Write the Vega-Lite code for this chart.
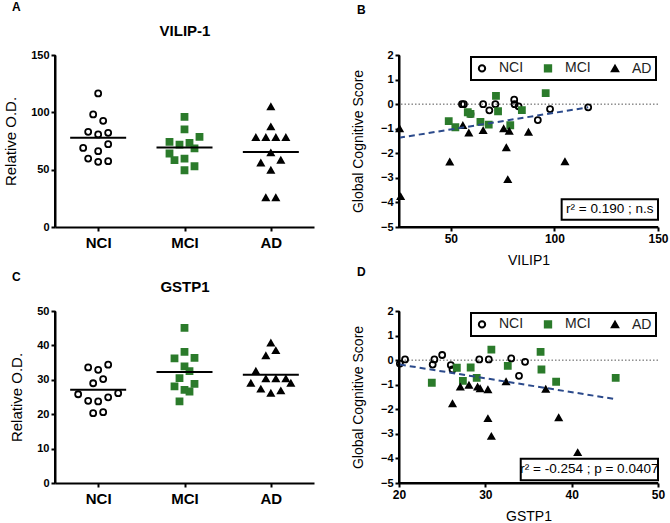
{
  "$schema": "https://vega.github.io/schema/vega-lite/v6.json",
  "background": "white",
  "padding": {"left": 3, "top": 1, "right": 2, "bottom": 2},
  "config": {
    "font": "Liberation Sans",
    "view": {"stroke": null},
    "axis": {"grid": false, "tickSize": 4, "domainColor": "black", "domainWidth": 2, "tickColor": "black", "tickWidth": 2, "labelOverlap": false, "labelFlush": false, "labelFont": "Liberation Sans", "labelFontWeight": "bold", "labelColor": "black", "labelFontSize": 11, "labelPadding": 2, "titleFont": "Liberation Sans", "titleFontWeight": "normal", "titleFontSize": 14, "titleColor": "black"},
    "axisQuantitative": {"labelOverlap": false, "labelFlush": false},
    "legend": {"labelFont": "Liberation Sans", "labelFontSize": 14, "labelColor": "#222", "strokeColor": "black", "strokeWidth": 2, "fillColor": "white", "padding": 4, "offset": 2, "columnPadding": 16, "labelOffset": 10, "symbolStrokeWidth": 2, "symbolSize": 40, "orient": "top-right", "direction": "horizontal"},
    "title": {"font": "Liberation Sans", "fontSize": 12, "fontWeight": "bold", "color": "black", "anchor": "start", "frame": "group"}
  },
  "datasets": {
    "vilip_strip": [
      {"group": "NCI", "slot": 0, "value": 116.5}, {"group": "NCI", "slot": -1, "value": 98.2}, {"group": "NCI", "slot": 1, "value": 92.6},
      {"group": "NCI", "slot": -2, "value": 83.0}, {"group": "NCI", "slot": 0, "value": 80.7}, {"group": "NCI", "slot": 2, "value": 82.1},
      {"group": "NCI", "slot": -3, "value": 69.0}, {"group": "NCI", "slot": 0, "value": 66.1}, {"group": "NCI", "slot": 2, "value": 72.2},
      {"group": "NCI", "slot": -2, "value": 59.7}, {"group": "NCI", "slot": 0, "value": 56.8}, {"group": "NCI", "slot": 2, "value": 57.4},
      {"group": "MCI", "slot": 0, "value": 96.1}, {"group": "MCI", "slot": 0, "value": 85.1}, {"group": "MCI", "slot": 3, "value": 78.6},
      {"group": "MCI", "slot": -3, "value": 74.3}, {"group": "MCI", "slot": -1, "value": 71.9}, {"group": "MCI", "slot": 1, "value": 73.4},
      {"group": "MCI", "slot": 2, "value": 68.5}, {"group": "MCI", "slot": -3, "value": 64.1}, {"group": "MCI", "slot": -2, "value": 58.3},
      {"group": "MCI", "slot": 0, "value": 59.7}, {"group": "MCI", "slot": 2, "value": 53.0}, {"group": "MCI", "slot": 0, "value": 49.5},
      {"group": "AD", "slot": 0, "value": 104.9}, {"group": "AD", "slot": 0, "value": 87.4}, {"group": "AD", "slot": -3, "value": 78.1},
      {"group": "AD", "slot": -1, "value": 78.1}, {"group": "AD", "slot": 1, "value": 78.1}, {"group": "AD", "slot": 3, "value": 78.1},
      {"group": "AD", "slot": 0, "value": 64.7}, {"group": "AD", "slot": -2, "value": 55.9}, {"group": "AD", "slot": 2, "value": 58.3},
      {"group": "AD", "slot": 0, "value": 49.5}, {"group": "AD", "slot": -1, "value": 25.6}, {"group": "AD", "slot": 1, "value": 25.6}
    ],
    "gstp_strip": [
      {"group": "NCI", "slot": -2, "value": 33.6}, {"group": "NCI", "slot": 0, "value": 32.9}, {"group": "NCI", "slot": 2, "value": 34.4},
      {"group": "NCI", "slot": -1, "value": 29.0}, {"group": "NCI", "slot": 1, "value": 30.2}, {"group": "NCI", "slot": -4, "value": 25.8},
      {"group": "NCI", "slot": -2, "value": 23.9}, {"group": "NCI", "slot": 0, "value": 23.7}, {"group": "NCI", "slot": 2, "value": 24.9},
      {"group": "NCI", "slot": 4, "value": 26.1}, {"group": "NCI", "slot": -1, "value": 20.3}, {"group": "NCI", "slot": 1, "value": 20.6},
      {"group": "MCI", "slot": 0, "value": 45.1}, {"group": "MCI", "slot": 0, "value": 38.1}, {"group": "MCI", "slot": -2, "value": 36.2},
      {"group": "MCI", "slot": 2, "value": 36.4}, {"group": "MCI", "slot": 0, "value": 33.9}, {"group": "MCI", "slot": 1, "value": 32.5},
      {"group": "MCI", "slot": -1, "value": 30.5}, {"group": "MCI", "slot": -2, "value": 28.1}, {"group": "MCI", "slot": 2, "value": 28.8},
      {"group": "MCI", "slot": 0, "value": 27.1}, {"group": "MCI", "slot": 1, "value": 26.6}, {"group": "MCI", "slot": -1, "value": 23.7},
      {"group": "AD", "slot": 0, "value": 40.7}, {"group": "AD", "slot": 1, "value": 38.5}, {"group": "AD", "slot": -1, "value": 37.0},
      {"group": "AD", "slot": -3, "value": 32.5}, {"group": "AD", "slot": -4, "value": 29.0}, {"group": "AD", "slot": -1, "value": 30.3},
      {"group": "AD", "slot": 1, "value": 30.3}, {"group": "AD", "slot": 3, "value": 30.3}, {"group": "AD", "slot": 4, "value": 29.0},
      {"group": "AD", "slot": -2, "value": 27.3}, {"group": "AD", "slot": 0, "value": 26.1}, {"group": "AD", "slot": 2, "value": 26.8}
    ],
    "vilip_scatter": [
      {"group": "NCI", "vilip": 55.4, "gcs": 0.0}, {"group": "NCI", "vilip": 56.3, "gcs": 0.0}, {"group": "NCI", "vilip": 59.5, "gcs": -0.4},
      {"group": "NCI", "vilip": 65.6, "gcs": 0.0}, {"group": "NCI", "vilip": 68.6, "gcs": -0.25}, {"group": "NCI", "vilip": 71.5, "gcs": 0.0},
      {"group": "NCI", "vilip": 80.6, "gcs": 0.18}, {"group": "NCI", "vilip": 80.8, "gcs": 0.0}, {"group": "NCI", "vilip": 82.7, "gcs": -0.09},
      {"group": "NCI", "vilip": 92.0, "gcs": -0.65}, {"group": "NCI", "vilip": 97.9, "gcs": -0.2}, {"group": "NCI", "vilip": 116.3, "gcs": -0.13},
      {"group": "MCI", "vilip": 49.0, "gcs": -0.69}, {"group": "MCI", "vilip": 52.2, "gcs": -0.94}, {"group": "MCI", "vilip": 58.2, "gcs": -0.33},
      {"group": "MCI", "vilip": 59.5, "gcs": -0.4}, {"group": "MCI", "vilip": 64.3, "gcs": -0.72}, {"group": "MCI", "vilip": 68.3, "gcs": -0.83},
      {"group": "MCI", "vilip": 71.8, "gcs": 0.34}, {"group": "MCI", "vilip": 72.8, "gcs": -0.29}, {"group": "MCI", "vilip": 78.7, "gcs": -0.86},
      {"group": "MCI", "vilip": 84.3, "gcs": -0.24}, {"group": "MCI", "vilip": 95.8, "gcs": 0.45},
      {"group": "AD", "vilip": 25.3, "gcs": -1.0}, {"group": "AD", "vilip": 25.8, "gcs": -3.76}, {"group": "AD", "vilip": 49.5, "gcs": -2.35},
      {"group": "AD", "vilip": 55.8, "gcs": -0.87}, {"group": "AD", "vilip": 58.7, "gcs": -1.17}, {"group": "AD", "vilip": 65.6, "gcs": -1.07},
      {"group": "AD", "vilip": 75.5, "gcs": -1.0}, {"group": "AD", "vilip": 76.8, "gcs": -1.77}, {"group": "AD", "vilip": 78.2, "gcs": -1.1},
      {"group": "AD", "vilip": 77.5, "gcs": -3.07}, {"group": "AD", "vilip": 87.5, "gcs": -1.14}, {"group": "AD", "vilip": 105.1, "gcs": -2.34}
    ],
    "gstp_scatter": [
      {"group": "NCI", "gstp": 20.1, "gcs": -0.14}, {"group": "NCI", "gstp": 20.7, "gcs": 0.03}, {"group": "NCI", "gstp": 23.9, "gcs": -0.18},
      {"group": "NCI", "gstp": 24.1, "gcs": 0.03}, {"group": "NCI", "gstp": 25.0, "gcs": 0.21}, {"group": "NCI", "gstp": 26.0, "gcs": -0.2},
      {"group": "NCI", "gstp": 26.2, "gcs": -0.38}, {"group": "NCI", "gstp": 29.3, "gcs": 0.03}, {"group": "NCI", "gstp": 30.4, "gcs": 0.03},
      {"group": "NCI", "gstp": 33.0, "gcs": 0.07}, {"group": "NCI", "gstp": 33.9, "gcs": -0.64}, {"group": "NCI", "gstp": 34.6, "gcs": -0.07},
      {"group": "MCI", "gstp": 23.8, "gcs": -0.92}, {"group": "MCI", "gstp": 26.7, "gcs": -0.31}, {"group": "MCI", "gstp": 27.4, "gcs": -0.84},
      {"group": "MCI", "gstp": 28.3, "gcs": -0.3}, {"group": "MCI", "gstp": 29.0, "gcs": -0.72}, {"group": "MCI", "gstp": 30.7, "gcs": 0.43},
      {"group": "MCI", "gstp": 32.6, "gcs": -0.23}, {"group": "MCI", "gstp": 36.4, "gcs": 0.34}, {"group": "MCI", "gstp": 36.5, "gcs": -0.38},
      {"group": "MCI", "gstp": 38.2, "gcs": -0.88}, {"group": "MCI", "gstp": 45.1, "gcs": -0.72},
      {"group": "AD", "gstp": 26.2, "gcs": -1.77}, {"group": "AD", "gstp": 27.1, "gcs": -1.09}, {"group": "AD", "gstp": 28.1, "gcs": -1.02},
      {"group": "AD", "gstp": 29.1, "gcs": -1.09}, {"group": "AD", "gstp": 29.4, "gcs": -1.16}, {"group": "AD", "gstp": 30.3, "gcs": -1.2},
      {"group": "AD", "gstp": 30.3, "gcs": -2.38}, {"group": "AD", "gstp": 30.7, "gcs": -3.1}, {"group": "AD", "gstp": 32.4, "gcs": -0.88},
      {"group": "AD", "gstp": 37.0, "gcs": -1.18}, {"group": "AD", "gstp": 38.5, "gcs": -2.34}, {"group": "AD", "gstp": 40.7, "gcs": -3.76}
    ],
    "fitB": [{"vilip": 25, "gcs": -1.37}, {"vilip": 116.3, "gcs": -0.13}],
    "fitD": [{"gstp": 20.1, "gcs": -0.18}, {"gstp": 45.1, "gcs": -1.59}]
  },
  "bounds": "flush",
  "columns": 2,
  "spacing": {"row": 84, "column": 85},
  "resolve": {
    "scale": {"shape": "independent", "fill": "independent", "stroke": "independent", "x": "independent", "y": "independent"},
    "legend": {"shape": "independent", "fill": "independent", "stroke": "independent"},
    "axis": {"x": "independent", "y": "independent"}
  },
  "concat": [
    {
      "width": 259, "height": 172,
      "title": {"text": "A", "dx": -43, "offset": 9},
      "data": {"name": "vilip_strip"},
      "resolve": {"axis": {"x": "independent"}},
      "layer": [
        {
          "mark": {"type": "point", "strokeWidth": 1.8, "opacity": 1, "size": 36},
          "encoding": {
            "x": {"field": "group", "type": "nominal", "sort": ["NCI", "MCI", "AD"], "scale": {"type": "point", "padding": 0.5}, "axis": {"title": null, "labelAngle": 0, "labelFontSize": 15, "labelPadding": 4}},
            "xOffset": {"field": "slot", "type": "quantitative", "scale": {"domain": [-5, 5], "range": [-25, 25]}},
            "y": {"field": "value", "type": "quantitative", "scale": {"domain": [0, 150], "nice": false}, "axis": {"title": "Relative O.D.", "values": [0, 50, 100, 150], "titlePadding": 12, "titleFontSize": 15, "labelOverlap": false}},
            "shape": {"field": "group", "type": "nominal", "scale": {"domain": ["NCI", "MCI", "AD"], "range": ["circle", "square", "triangle-up"]}, "legend": null},
            "fill": {"field": "group", "type": "nominal", "scale": {"domain": ["NCI", "MCI", "AD"], "range": ["transparent", "#2b7b2b", "black"]}, "legend": null},
            "stroke": {"field": "group", "type": "nominal", "scale": {"domain": ["NCI", "MCI", "AD"], "range": ["black", "#2b7b2b", "black"]}, "legend": null}
          }
        },
        {
          "mark": {"type": "tick", "thickness": 2, "size": 56, "color": "black", "opacity": 1},
          "encoding": {
            "x": {"field": "group", "type": "nominal", "sort": ["NCI", "MCI", "AD"], "axis": {"orient": "top", "title": "VILIP-1", "labels": false, "ticks": false, "domain": false, "titleFontWeight": "bold", "titleFontSize": 15, "titlePadding": 17}},
            "y": {"aggregate": "mean", "field": "value", "type": "quantitative", "axis": {"title": "Relative O.D.", "values": [0, 50, 100, 150], "titlePadding": 12, "titleFontSize": 15, "labelOverlap": false}}
          }
        },
        {
          "data": {"values": [{}]},
          "mark": {"type": "rule", "color": "black", "strokeWidth": 2},
          "encoding": {
            "x": {"value": 0},
            "y": {"datum": 0, "axis": {"title": "Relative O.D.", "values": [0, 50, 100, 150], "titlePadding": 12, "titleFontSize": 15, "labelOverlap": false}},
            "y2": {"datum": 150}
          }
        }
      ]
    },
    {
      "width": 259, "height": 172,
      "title": {"text": "B", "dx": -42, "offset": 32},
      "layer": [
        {
          "data": {"values": [{}]},
          "mark": {"type": "rule", "strokeDash": [1.5, 2], "color": "#555", "strokeWidth": 1},
          "encoding": {"y": {"datum": 0, "axis": {"title": "Global Cognitive Score", "values": [-5, -4, -3, -2, -1, 0, 1, 2], "titlePadding": 15, "labelOverlap": false}}}
        },
        {
          "data": {"name": "vilip_scatter"},
          "mark": {"type": "point", "strokeWidth": 1.8, "opacity": 1, "size": 36},
          "encoding": {
            "x": {"field": "vilip", "type": "quantitative", "scale": {"domain": [25, 150], "nice": false, "zero": false}, "axis": {"title": "VILIP1", "values": [50, 100, 150], "labelFontSize": 12, "titlePadding": 9, "labelOverlap": false, "labelFlush": false}},
            "y": {"field": "gcs", "type": "quantitative", "scale": {"domain": [-5, 2], "nice": false, "zero": false}, "axis": {"title": "Global Cognitive Score", "values": [-5, -4, -3, -2, -1, 0, 1, 2], "titlePadding": 15, "labelOverlap": false}},
            "shape": {"field": "group", "type": "nominal", "scale": {"domain": ["NCI", "MCI", "AD"], "range": ["circle", "square", "triangle-up"]}, "legend": {"title": null}},
            "fill": {"field": "group", "type": "nominal", "scale": {"domain": ["NCI", "MCI", "AD"], "range": ["transparent", "#2b7b2b", "black"]}, "legend": {"title": null}},
            "stroke": {"field": "group", "type": "nominal", "scale": {"domain": ["NCI", "MCI", "AD"], "range": ["black", "#2b7b2b", "black"]}, "legend": {"title": null}}
          }
        },
        {
          "data": {"name": "fitB"},
          "mark": {"type": "line", "strokeDash": [6, 4], "color": "#2b4a8b", "strokeWidth": 2},
          "encoding": {
            "x": {"field": "vilip", "type": "quantitative", "axis": {"title": "VILIP1", "values": [50, 100, 150], "labelFontSize": 12, "titlePadding": 9, "labelOverlap": false, "labelFlush": false}},
            "y": {"field": "gcs", "type": "quantitative", "axis": {"title": "Global Cognitive Score", "values": [-5, -4, -3, -2, -1, 0, 1, 2], "titlePadding": 15, "labelOverlap": false}}
          }
        },
        {
          "data": {"values": [{}]},
          "mark": {"type": "rule", "color": "black", "strokeWidth": 2},
          "encoding": {
            "x": {"datum": 25, "axis": {"title": "VILIP1", "values": [50, 100, 150], "labelFontSize": 12, "titlePadding": 9, "labelOverlap": false, "labelFlush": false}},
            "y": {"datum": -5, "axis": {"title": "Global Cognitive Score", "values": [-5, -4, -3, -2, -1, 0, 1, 2], "titlePadding": 15, "labelOverlap": false}},
            "y2": {"datum": 2}
          }
        },
        {
          "data": {"values": [{}]},
          "mark": {"type": "rule", "color": "black", "strokeWidth": 2},
          "encoding": {
            "x": {"datum": 25, "axis": {"title": "VILIP1", "values": [50, 100, 150], "labelFontSize": 12, "titlePadding": 9, "labelOverlap": false, "labelFlush": false}},
            "x2": {"datum": 150},
            "y": {"datum": -5, "axis": {"title": "Global Cognitive Score", "values": [-5, -4, -3, -2, -1, 0, 1, 2], "titlePadding": 15, "labelOverlap": false}}
          }
        },
        {
          "data": {"values": [{}]},
          "mark": {"type": "rect", "fill": "white", "stroke": "black", "strokeWidth": 2},
          "encoding": {
            "x": {"datum": 103.5, "axis": {"title": "VILIP1", "values": [50, 100, 150], "labelFontSize": 12, "titlePadding": 9, "labelOverlap": false, "labelFlush": false}},
            "x2": {"datum": 150},
            "y": {"datum": -3.87, "axis": {"title": "Global Cognitive Score", "values": [-5, -4, -3, -2, -1, 0, 1, 2], "titlePadding": 15, "labelOverlap": false}},
            "y2": {"datum": -4.7}
          }
        },
        {
          "data": {"values": [{}]},
          "mark": {"type": "text", "fontSize": 13.5, "font": "Liberation Sans", "color": "black"},
          "encoding": {
            "x": {"datum": 126.7, "axis": {"title": "VILIP1", "values": [50, 100, 150], "labelFontSize": 12, "titlePadding": 9, "labelOverlap": false, "labelFlush": false}},
            "y": {"datum": -4.28, "axis": {"title": "Global Cognitive Score", "values": [-5, -4, -3, -2, -1, 0, 1, 2], "titlePadding": 15, "labelOverlap": false}},
            "text": {"value": "r² = 0.190 ; n.s"}
          }
        }
      ]
    },
    {
      "width": 259, "height": 172,
      "title": {"text": "C", "dx": -43, "offset": -5},
      "data": {"name": "gstp_strip"},
      "resolve": {"axis": {"x": "independent"}},
      "layer": [
        {
          "mark": {"type": "point", "strokeWidth": 1.8, "opacity": 1, "size": 36},
          "encoding": {
            "x": {"field": "group", "type": "nominal", "sort": ["NCI", "MCI", "AD"], "scale": {"type": "point", "padding": 0.5}, "axis": {"title": null, "labelAngle": 0, "labelFontSize": 15, "labelPadding": 4}},
            "xOffset": {"field": "slot", "type": "quantitative", "scale": {"domain": [-5, 5], "range": [-25, 25]}},
            "y": {"field": "value", "type": "quantitative", "scale": {"domain": [0, 50], "nice": false}, "axis": {"title": "Relative O.D.", "values": [0, 10, 20, 30, 40, 50], "titlePadding": 12, "titleFontSize": 15, "labelOverlap": false}},
            "shape": {"field": "group", "type": "nominal", "scale": {"domain": ["NCI", "MCI", "AD"], "range": ["circle", "square", "triangle-up"]}, "legend": null},
            "fill": {"field": "group", "type": "nominal", "scale": {"domain": ["NCI", "MCI", "AD"], "range": ["transparent", "#2b7b2b", "black"]}, "legend": null},
            "stroke": {"field": "group", "type": "nominal", "scale": {"domain": ["NCI", "MCI", "AD"], "range": ["black", "#2b7b2b", "black"]}, "legend": null}
          }
        },
        {
          "mark": {"type": "tick", "thickness": 2, "size": 56, "color": "black", "opacity": 1},
          "encoding": {
            "x": {"field": "group", "type": "nominal", "sort": ["NCI", "MCI", "AD"], "axis": {"orient": "top", "title": "GSTP1", "labels": false, "ticks": false, "domain": false, "titleFontWeight": "bold", "titleFontSize": 15, "titlePadding": 17}},
            "y": {"aggregate": "mean", "field": "value", "type": "quantitative", "axis": {"title": "Relative O.D.", "values": [0, 10, 20, 30, 40, 50], "titlePadding": 12, "titleFontSize": 15, "labelOverlap": false}}
          }
        },
        {
          "data": {"values": [{}]},
          "mark": {"type": "rule", "color": "black", "strokeWidth": 2},
          "encoding": {
            "x": {"value": 0},
            "y": {"datum": 0, "axis": {"title": "Relative O.D.", "values": [0, 10, 20, 30, 40, 50], "titlePadding": 12, "titleFontSize": 15, "labelOverlap": false}},
            "y2": {"datum": 50}
          }
        }
      ]
    },
    {
      "width": 259, "height": 172,
      "title": {"text": "D", "dx": -42, "offset": 26},
      "layer": [
        {
          "data": {"values": [{}]},
          "mark": {"type": "rule", "strokeDash": [1.5, 2], "color": "#555", "strokeWidth": 1},
          "encoding": {"y": {"datum": 0, "axis": {"title": "Global Cognitive Score", "values": [-5, -4, -3, -2, -1, 0, 1, 2], "titlePadding": 15, "labelOverlap": false}}}
        },
        {
          "data": {"name": "gstp_scatter"},
          "mark": {"type": "point", "strokeWidth": 1.8, "opacity": 1, "size": 36},
          "encoding": {
            "x": {"field": "gstp", "type": "quantitative", "scale": {"domain": [20, 50], "nice": false, "zero": false}, "axis": {"title": "GSTP1", "values": [20, 30, 40, 50], "labelFontSize": 12, "titlePadding": 9, "labelOverlap": false, "labelFlush": false}},
            "y": {"field": "gcs", "type": "quantitative", "scale": {"domain": [-5, 2], "nice": false, "zero": false}, "axis": {"title": "Global Cognitive Score", "values": [-5, -4, -3, -2, -1, 0, 1, 2], "titlePadding": 15, "labelOverlap": false}},
            "shape": {"field": "group", "type": "nominal", "scale": {"domain": ["NCI", "MCI", "AD"], "range": ["circle", "square", "triangle-up"]}, "legend": {"title": null}},
            "fill": {"field": "group", "type": "nominal", "scale": {"domain": ["NCI", "MCI", "AD"], "range": ["transparent", "#2b7b2b", "black"]}, "legend": {"title": null}},
            "stroke": {"field": "group", "type": "nominal", "scale": {"domain": ["NCI", "MCI", "AD"], "range": ["black", "#2b7b2b", "black"]}, "legend": {"title": null}}
          }
        },
        {
          "data": {"name": "fitD"},
          "mark": {"type": "line", "strokeDash": [6, 4], "color": "#2b4a8b", "strokeWidth": 2},
          "encoding": {
            "x": {"field": "gstp", "type": "quantitative", "axis": {"title": "GSTP1", "values": [20, 30, 40, 50], "labelFontSize": 12, "titlePadding": 9, "labelOverlap": false, "labelFlush": false}},
            "y": {"field": "gcs", "type": "quantitative", "axis": {"title": "Global Cognitive Score", "values": [-5, -4, -3, -2, -1, 0, 1, 2], "titlePadding": 15, "labelOverlap": false}}
          }
        },
        {
          "data": {"values": [{}]},
          "mark": {"type": "rule", "color": "black", "strokeWidth": 2},
          "encoding": {
            "x": {"datum": 20, "axis": {"title": "GSTP1", "values": [20, 30, 40, 50], "labelFontSize": 12, "titlePadding": 9, "labelOverlap": false, "labelFlush": false}},
            "y": {"datum": -5, "axis": {"title": "Global Cognitive Score", "values": [-5, -4, -3, -2, -1, 0, 1, 2], "titlePadding": 15, "labelOverlap": false}},
            "y2": {"datum": 2}
          }
        },
        {
          "data": {"values": [{}]},
          "mark": {"type": "rule", "color": "black", "strokeWidth": 2},
          "encoding": {
            "x": {"datum": 20, "axis": {"title": "GSTP1", "values": [20, 30, 40, 50], "labelFontSize": 12, "titlePadding": 9, "labelOverlap": false, "labelFlush": false}},
            "x2": {"datum": 50},
            "y": {"datum": -5, "axis": {"title": "Global Cognitive Score", "values": [-5, -4, -3, -2, -1, 0, 1, 2], "titlePadding": 15, "labelOverlap": false}}
          }
        },
        {
          "data": {"values": [{}]},
          "mark": {"type": "rect", "fill": "white", "stroke": "black", "strokeWidth": 2},
          "encoding": {
            "x": {"datum": 34.1, "axis": {"title": "GSTP1", "values": [20, 30, 40, 50], "labelFontSize": 12, "titlePadding": 9, "labelOverlap": false, "labelFlush": false}},
            "x2": {"datum": 50},
            "y": {"datum": -4.01, "axis": {"title": "Global Cognitive Score", "values": [-5, -4, -3, -2, -1, 0, 1, 2], "titlePadding": 15, "labelOverlap": false}},
            "y2": {"datum": -4.89}
          }
        },
        {
          "data": {"values": [{}]},
          "mark": {"type": "text", "fontSize": 13.5, "font": "Liberation Sans", "color": "black"},
          "encoding": {
            "x": {"datum": 42.05, "axis": {"title": "GSTP1", "values": [20, 30, 40, 50], "labelFontSize": 12, "titlePadding": 9, "labelOverlap": false, "labelFlush": false}},
            "y": {"datum": -4.45, "axis": {"title": "Global Cognitive Score", "values": [-5, -4, -3, -2, -1, 0, 1, 2], "titlePadding": 15, "labelOverlap": false}},
            "text": {"value": "r² = -0.254 ; p = 0.0407"}
          }
        }
      ]
    }
  ]
}
